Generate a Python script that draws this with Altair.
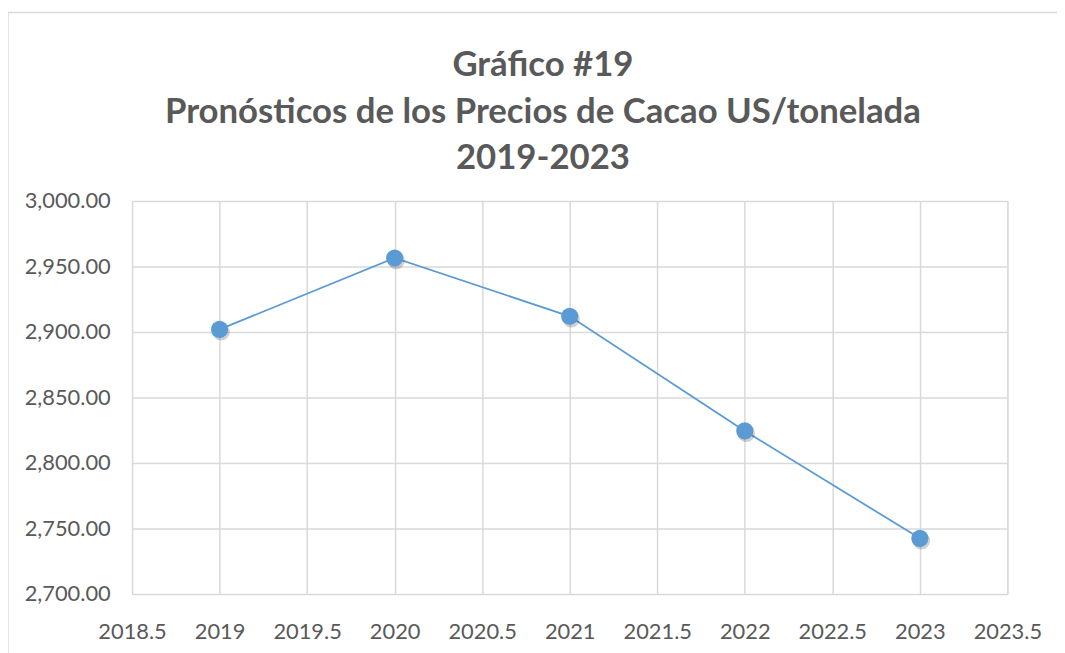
import altair as alt
import pandas as pd

years = [2019, 2020, 2021, 2022, 2023]
prices = [2902.0, 2956.5, 2912.0, 2824.5, 2742.5]
x_ticks = [2018.5, 2019, 2019.5, 2020, 2020.5, 2021, 2021.5, 2022, 2022.5, 2023, 2023.5]
y_ticks = [2700, 2750, 2800, 2850, 2900, 2950, 3000]
title_lines = ["Gráfico #19", "Pronósticos de los Precios de Cacao US/tonelada", "2019-2023"]

df = pd.DataFrame({"year": years, "price": prices})

BLUE = "#5B9BD5"
GRID = "#D9D9D9"
TEXT = "#595959"
FONT = "Lato"

x_enc = alt.X(
    "year:Q",
    scale=alt.Scale(domain=[x_ticks[0], x_ticks[-1]], nice=False, zero=False),
    axis=alt.Axis(
        values=x_ticks, labelExpr="toString(datum.value)", title=None,
        grid=True, gridColor=GRID, gridWidth=1.5, domain=False, ticks=False,
        labelFont=FONT, labelFontSize=22, labelColor=TEXT, labelPadding=28,
        labelOverlap=False, labelFlush=False,
    ),
)
y_enc = alt.Y(
    "price:Q",
    scale=alt.Scale(domain=[y_ticks[0], y_ticks[-1]], nice=False, zero=False),
    axis=alt.Axis(
        values=y_ticks, format=",.2f", title=None,
        grid=True, gridColor=GRID, gridWidth=1.5, domain=False, ticks=False,
        labelFont=FONT, labelFontSize=22, labelColor=TEXT, labelPadding=22,
        labelOverlap=False, labelFlush=False,
    ),
)

line = alt.Chart(df).mark_line(color=BLUE, strokeWidth=1.8).encode(x=x_enc, y=y_enc)
shadow = alt.Chart(df).mark_circle(color="#000000", opacity=0.18, size=310).encode(
    x="year:Q", y="price:Q", xOffset=alt.value(1.5), yOffset=alt.value(2.5)
)
pts = alt.Chart(df).mark_circle(color=BLUE, opacity=1, size=300).encode(x="year:Q", y="price:Q")

border_df = pd.DataFrame({"k": [0]})
left_border = alt.Chart(border_df).mark_rule(color=GRID, strokeWidth=1.5, clip=False).encode(
    x=alt.value(-125), y=alt.value(-190), y2=alt.value(470)
)
top_border = alt.Chart(border_df).mark_rule(color=GRID, strokeWidth=1.5, clip=False).encode(
    x=alt.value(-125), x2=alt.value(940), y=alt.value(-190)
)

chart = alt.layer(line, shadow, pts, left_border, top_border).properties(
    width=882,
    height=396,
    title=alt.TitleParams(
        text=title_lines, anchor="middle", font=FONT, fontSize=35, fontWeight="bold",
        color=TEXT, lineHeight=47, dx=-27, dy=166, offset=0,
    ),
    autosize=alt.AutoSizeParams(type="none"),
    padding={"left": 125, "top": 192, "right": 50, "bottom": 60},
).configure_view(stroke=None).configure(background="white")

chart.save("out.html", embed_options={"renderer": "svg", "actions": False})
